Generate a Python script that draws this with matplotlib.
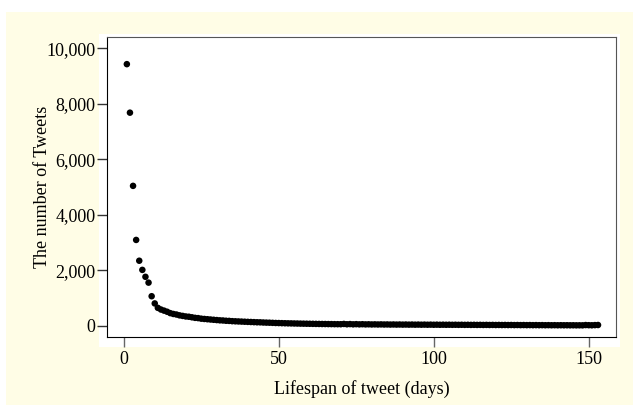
import matplotlib.pyplot as plt
from matplotlib.ticker import StrMethodFormatter
from matplotlib.patches import Rectangle

# number of tweets per lifespan day
counts = [9430, 7680, 5040, 3090, 2340, 2010, 1760, 1550, 1060, 800,
          640, 580, 540, 500, 450, 420, 400, 370, 350, 330,
          320, 300, 280, 270, 250, 240, 230, 220, 210, 200,
          190, 185, 175, 170, 160, 155, 150, 145, 140, 135,
          130, 125, 120, 118, 112, 108, 105, 100, 95, 92,
          88, 85, 82, 80, 77, 75, 72, 70, 68, 66,
          64, 62, 60, 58, 57, 55, 54, 52, 51, 50,
          60, 48, 55, 46, 52, 45, 50, 44, 47, 42,
          45, 41, 44, 40, 42, 38, 41, 37, 40, 36,
          39, 35, 38, 34, 37, 33, 36, 32, 35, 31,
          34, 30, 33, 30, 32, 29, 31, 28, 30, 27,
          29, 26, 28, 25, 27, 24, 26, 23, 25, 22,
          24, 21, 23, 20, 22, 19, 21, 18, 20, 17,
          19, 16, 18, 15, 17, 14, 16, 13, 15, 12,
          14, 12, 13, 11, 12, 10, 11, 10, 20, 15,
          12, 18, 22]
days = list(range(1, len(counts) + 1))

xticks = [0, 50, 100, 150]
yticks = [0, 2000, 4000, 6000, 8000, 10000]

plt.rcParams['font.family'] = ['Liberation Serif', 'DejaVu Serif']
plt.rcParams['font.size'] = 13

fig = plt.figure(figsize=(6.33, 4.05), dpi=100, facecolor='white')
fig.patches.append(Rectangle((6 / 633, 0), 1, 1 - 12 / 405, transform=fig.transFigure,
                             facecolor='#fffde6', edgecolor='none', zorder=-10))
fig.patches.append(Rectangle((99 / 633, 1 - 347 / 405), (620 - 99) / 633, (347 - 34) / 405,
                             transform=fig.transFigure, facecolor='white',
                             edgecolor='none', zorder=-9))

ax = fig.add_axes([106.7 / 633, 1 - 336.7 / 405, (616 - 106.7) / 633, 300 / 405])
ax.scatter(days, counts, s=22, color='black', edgecolors='none', zorder=3)

ax.set_xlim(-5.5, 158.8)
ax.set_ylim(-400, 10420)
ax.set_xticks(xticks)
ax.set_yticks(yticks)
ax.yaxis.set_major_formatter(StrMethodFormatter('{x:,.0f}'))
ax.tick_params(axis='x', length=7, width=1, color='#666666', pad=3)
ax.tick_params(axis='y', length=7, width=1, color='#333333', pad=1)

for side in ['left', 'bottom']:
    ax.spines[side].set_color('black')
for side in ['top', 'right']:
    ax.spines[side].set_color('#555555')

ax.set_xlabel('Lifespan of tweet (days)', labelpad=9)
ax.set_ylabel('The number of Tweets', labelpad=-3)

plt.savefig('out.png', dpi=100, facecolor=fig.get_facecolor())
